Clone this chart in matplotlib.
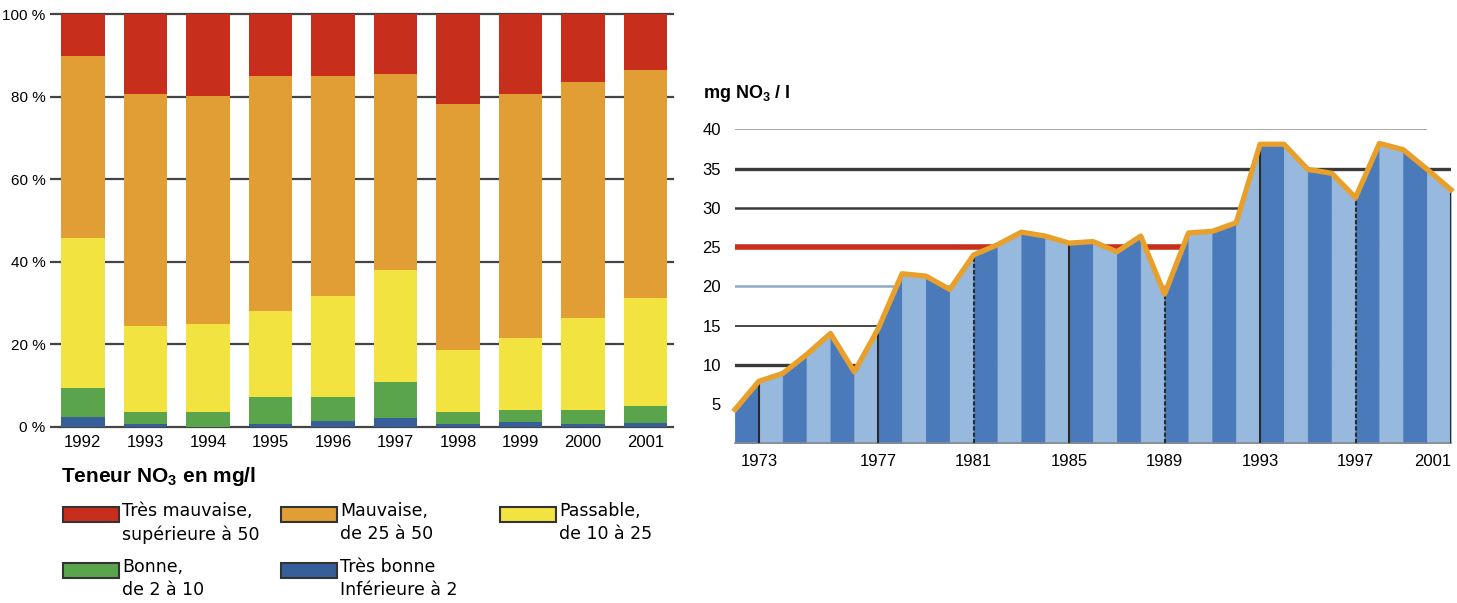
import numpy as np
import matplotlib
matplotlib.use("Agg")
import matplotlib.pyplot as plt
from matplotlib.patches import Rectangle
from matplotlib.transforms import ScaledTranslation

plt.rcParams['font.family'] = ['Liberation Sans', 'DejaVu Sans']
plt.rcParams['mathtext.fontset'] = 'custom'
plt.rcParams['mathtext.rm'] = 'Liberation Sans'
plt.rcParams['mathtext.bf'] = 'Liberation Sans:bold'

# left chart: share of stations per class (%)
years_left = ['1992', '1993', '1994', '1995', '1996', '1997', '1998', '1999', '2000', '2001']
tres_bonne = [2.5, 0.7, 0.0, 0.7, 1.5, 2.1, 0.7, 1.1, 0.7, 1.0]
bonne = [6.9, 2.9, 3.6, 6.6, 5.8, 8.7, 2.9, 3.0, 3.3, 4.0]
passable = [36.3, 20.9, 21.3, 20.9, 24.3, 27.2, 15.0, 17.4, 22.3, 26.2]
mauvaise = [44.1, 56.1, 55.2, 56.8, 53.4, 47.5, 59.6, 59.1, 57.2, 55.2]
tres_mauvaise = [10.2, 19.4, 19.9, 15.0, 15.0, 14.5, 21.8, 19.4, 16.5, 13.6]

class_labels = ['Très mauvaise,\nsupérieure à 50', 'Mauvaise,\nde 25 à 50', 'Passable,\nde 10 à 25',
                'Bonne,\nde 2 à 10', 'Très bonne\nInférieure à 2']
class_colors = ['#c82e1c', '#e09e34', '#f2e341', '#5aa54b', '#365f9a']

# right chart: mean nitrate (mg NO3 / l), one point per stripe boundary
nitrate = [4.3, 7.9, 8.9, 11.3, 14.0, 9.1, 14.6, 21.6, 21.3, 19.6, 24.0, 25.3, 26.9, 26.4, 25.5,
           25.7, 24.4, 26.4, 19.0, 26.8, 27.0, 28.1, 38.1, 38.1, 34.9, 34.4, 31.3, 38.2, 37.4,
           34.9, 32.3]
tick_idx = [1, 6, 10, 14, 18, 22, 26, 30]
tick_years = ['1973', '1977', '1981', '1985', '1989', '1993', '1997', '2001']
tick_styles = ['solid', 'solid', (0, (2, 1)), 'solid', (0, (2, 1)), 'solid', (0, (2, 1)), 'solid']
grid_levels = [40, 35, 30, 25, 20, 15, 10]
grid_colors = ['#9a9a9a', '#3a3a3a', '#3a3a3a', '#c8301c', '#8fa9c6', '#3a3a3a', '#3a3a3a']
grid_widths = [1.2, 2.4, 1.8, 4.0, 1.8, 1.3, 2.4]
grid_xmax = [0.965, 1, 1, 1, 1, 1, 1]

W, H = 1457, 603
fig = plt.figure(figsize=(W / 100, H / 100), dpi=100)

# ---- left stacked bars
ax1 = fig.add_axes([61 / W, 1 - 427 / H, 612 / W, 413 / H])
xl = np.arange(len(years_left))
bottom = np.zeros(len(xl))
stack = [tres_bonne, bonne, passable, mauvaise, tres_mauvaise]
for vals, col in zip(stack, class_colors[::-1]):
    ax1.bar(xl, vals, 0.70, bottom=bottom, color=col, linewidth=0, zorder=2)
    bottom += np.array(vals)
ax1.set_xlim(-0.35, 9.44)
ax1.set_ylim(0, 100)
ax1.set_yticks(range(0, 101, 20))
ax1.set_yticklabels([f'{v} %' for v in range(0, 101, 20)], fontsize=11)
ax1.yaxis.grid(True, color='#444444', lw=1.6, zorder=0)
for gl in ax1.get_ygridlines():
    gl.set_clip_on(False)
ax1.set_axisbelow(True)
ax1.tick_params(axis='y', length=8, width=1.6, color='#444444', pad=3)
ax1.set_xticks(xl)
ax1.set_xticklabels(years_left, fontsize=12)
ax1.tick_params(axis='x', length=0, pad=6)
for s in ax1.spines.values():
    s.set_visible(False)

# legend of the left chart
fig.text(61 / W, 1 - 477 / H, r'Teneur NO$_\mathbf{3}$ en mg/l', fontsize=15, fontweight='bold',
         va='center')
leg_pos = [(63, 507), (281, 507), (500, 507), (63, 563), (281, 563)]
for (px, py), lab, col in zip(leg_pos, class_labels, class_colors):
    fig.patches.append(Rectangle((px / W, 1 - (py + 15) / H), 56 / W, 15 / H,
                                 transform=fig.transFigure, facecolor=col,
                                 edgecolor='#333333', lw=1.5))
    fig.text((px + 59) / W, 1 - (py - 5) / H, lab, fontsize=12.5, family='DejaVu Sans',
             va='top', linespacing=1.35)

# ---- right area chart
ax2 = fig.add_axes([735 / W, 1 - 443.3 / H, 716 / W, 314 / H])
x = np.arange(len(nitrate))
for lvl, c, w, xm in zip(grid_levels, grid_colors, grid_widths, grid_xmax):
    ax2.axhline(lvl, xmax=xm, color=c, lw=w, zorder=1)
stripe_cols = ['#4a7aba', '#98b9de']
for i in range(len(x) - 1):
    ax2.fill_between(x[i:i + 2], 0, nitrate[i:i + 2], facecolor=stripe_cols[i % 2],
                     edgecolor=stripe_cols[i % 2], lw=0.6, zorder=2)
for t, ls in zip(tick_idx, tick_styles):
    ax2.vlines(t, 0, nitrate[t], colors='#2a2a2a', lw=1.5, linestyles=ls, zorder=3)
ax2.plot(x, nitrate, color='#e8a02a', lw=3.8, solid_joinstyle='round', zorder=4, clip_on=False)
ax2.set_xlim(0, 30)
ax2.set_ylim(0, 40)
ax2.set_yticks(range(5, 41, 5))
ax2.set_yticklabels([str(v) for v in range(5, 41, 5)], fontsize=12)
lift = ScaledTranslation(0, 4 / 100, fig.dpi_scale_trans)
for lab in ax2.get_yticklabels():
    lab.set_transform(lab.get_transform() + lift)
ax2.tick_params(axis='y', length=0, pad=10)
ax2.set_xticks(tick_idx)
ax2.set_xticklabels(tick_years, fontsize=12)
ax2.get_xticklabels()[-1].set_ha('right')
ax2.tick_params(axis='x', length=0, pad=8)
for s in ['top', 'left', 'right']:
    ax2.spines[s].set_visible(False)
ax2.spines['bottom'].set_color('#8a8a8a')
ax2.spines['bottom'].set_linewidth(1.2)
fig.text(703 / W, 1 - 93 / H, r'mg NO$_\mathbf{3}$ / l', fontsize=13, fontweight='bold', va='center')

fig.savefig('out.png', dpi=100)
